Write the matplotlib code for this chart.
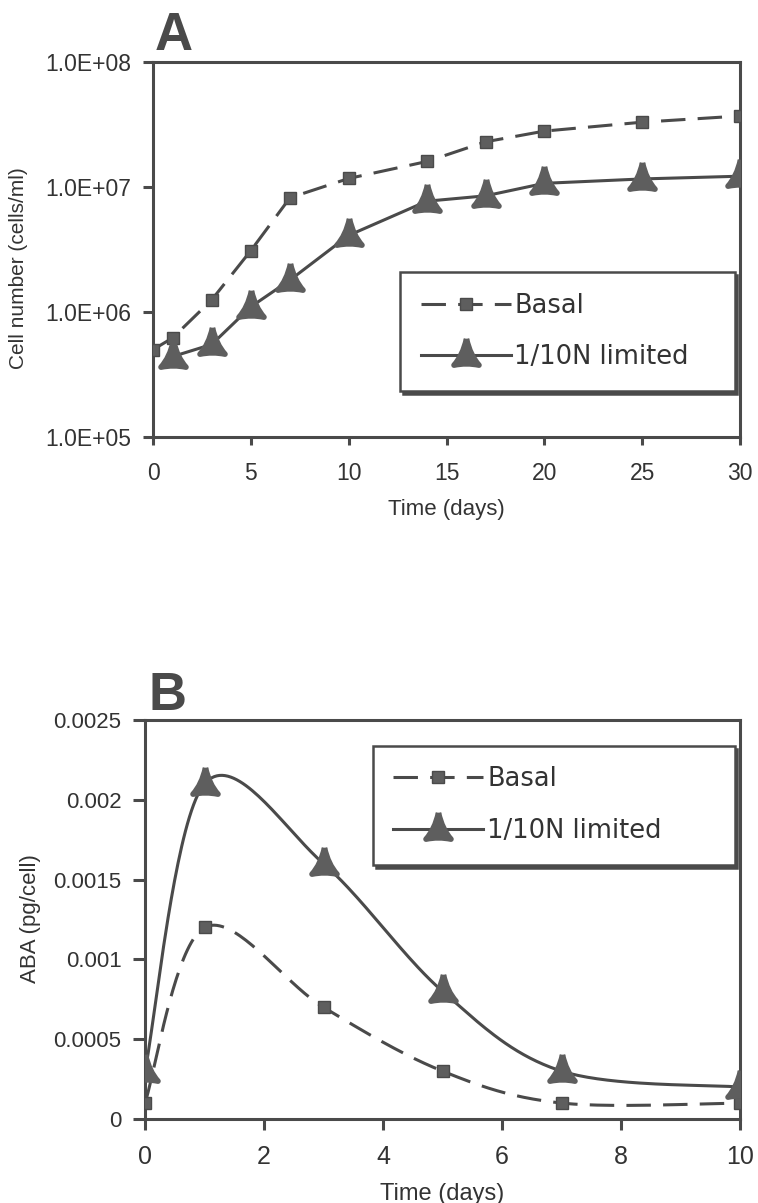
import numpy as np
import matplotlib.pyplot as plt
from matplotlib.path import Path

plt.rcParams['font.family'] = ['Liberation Sans', 'DejaVu Sans']

# growth curves (cells/ml)
days_a = [0, 1, 3, 5, 7, 10, 14, 17, 20, 25, 30]
basal_cells = [5.0e5, 6.2e5, 1.25e6, 3.1e6, 8.2e6, 1.17e7, 1.6e7, 2.3e7, 2.8e7, 3.3e7, 3.7e7]
days_a_lim = [1, 3, 5, 7, 10, 14, 17, 20, 25, 30]
limited_cells = [4.4e5, 5.5e5, 1.1e6, 1.8e6, 4.1e6, 7.7e6, 8.5e6, 1.07e7, 1.16e7, 1.22e7]

# ABA content (pg/cell)
days_b = [0, 1, 3, 5, 7, 10]
basal_aba = [0.0001, 0.0012, 0.0007, 0.0003, 0.0001, 0.0001]
limited_aba = [0.0003, 0.0021, 0.0016, 0.0008, 0.0003, 0.0002]

labels = ['Basal', '1/10N limited']
xticks_a = [0, 5, 10, 15, 20, 25, 30]
yticks_a = [1e5, 1e6, 1e7, 1e8]
yticklabels_a = ['1.0E+05', '1.0E+06', '1.0E+07', '1.0E+08']
xticks_b = [0, 2, 4, 6, 8, 10]
yticks_b = [0, 0.0005, 0.001, 0.0015, 0.002, 0.0025]
yticklabels_b = ['0', '0.0005', '0.001', '0.0015', '0.002', '0.0025']

INK = '#4a4a4a'
FILL = '#5e5e5e'
DASH = (0, (8, 4))

# rounded three-lobed triangle used as the marker for the N-limited series
tri = Path([(0, 1.0), (-0.22, 0.0), (-0.75, -0.58), (0, -0.42), (0.75, -0.58),
            (0.22, 0.0), (0, 1.0)],
           [Path.MOVETO, Path.CURVE3, Path.CURVE3, Path.CURVE3, Path.CURVE3,
            Path.CURVE3, Path.CURVE3])
TRI = dict(marker=tri, ms=24, mfc=FILL, mec=FILL, mew=4)
SQ = dict(marker='s', ms=8, mfc=FILL, mec=INK, mew=1)


def smooth(x, y, n=40):
    # bezier smoothing through the points, like a spreadsheet "smoothed line"
    P = np.column_stack([x, y]).astype(float)
    Q = np.vstack([P[:1], P, P[-1:]])
    t = np.linspace(0, 1, n)[:, None]
    out = []
    for i in range(len(P) - 1):
        p0, p3 = P[i], P[i + 1]
        c1 = p0 + (Q[i + 2] - Q[i]) / 6
        c2 = p3 - (Q[i + 3] - Q[i + 1]) / 6
        seg = (1 - t) ** 3 * p0 + 3 * (1 - t) ** 2 * t * c1 + 3 * (1 - t) * t ** 2 * c2 + t ** 3 * p3
        out.append(seg if i == 0 else seg[1:])
    out = np.vstack(out)
    return out[:, 0], out[:, 1]


def style_axes(ax):
    for s in ax.spines.values():
        s.set_color(INK)
        s.set_linewidth(2.2)
    ax.tick_params(direction='out', color=INK, width=2.2, labelcolor='#333333')


def add_legend(ax, h1, h2, anchor):
    leg = ax.legend([h1, h2], labels, loc='upper left', bbox_to_anchor=anchor,
                    mode='expand', frameon=True, fancybox=False,
                    framealpha=1, edgecolor=INK, borderpad=0.8, labelspacing=1.0,
                    handlelength=3.5, handletextpad=0.15, borderaxespad=0,
                    shadow={'ox': 2, 'oy': -2, 'color': INK, 'alpha': 1},
                    prop={'family': 'DejaVu Sans', 'size': 18.5})
    leg.get_frame().set_linewidth(1.8)
    for t in leg.get_texts():
        t.set_color('#333333')
    return leg


fig = plt.figure(figsize=(7.58, 12.03), dpi=100)

# --- panel A: cell number ---
ax1 = fig.add_axes([153 / 758, 1 - 437 / 1203, 587 / 758, 375 / 1203])
ax1.set_yscale('log')
b1, = ax1.plot(days_a, basal_cells, color=INK, lw=2.2, ls=DASH, zorder=3, **SQ)
l1, = ax1.plot(days_a_lim, limited_cells, color=INK, lw=2.2, ls='-', zorder=4, **TRI)
ax1.set_xlim(0, 30)
ax1.set_ylim(1e5, 1e8)
ax1.set_xticks(xticks_a)
ax1.set_xticklabels([str(v) for v in xticks_a], fontsize=16.5)
ax1.set_yticks(yticks_a)
ax1.set_yticklabels(yticklabels_a, fontsize=16.5)
ax1.yaxis.set_minor_locator(plt.NullLocator())
style_axes(ax1)
ax1.tick_params(axis='y', length=7, pad=9)
ax1.tick_params(axis='x', length=6, pad=12)
ax1.set_xlabel('Time (days)', fontsize=16, color='#333333', labelpad=10)
ax1.set_ylabel('Cell number (cells/ml)', fontsize=15, color='#333333')
ax1.yaxis.set_label_coords(-0.213, 0.45)
add_legend(ax1, b1, l1, (0.421, 0.112, 0.57, 0.328))
fig.text(155 / 758, 1 - 50 / 1203, 'A', fontsize=38, fontweight='bold',
         color=INK, ha='left', va='baseline')

# --- panel B: ABA content ---
ax2 = fig.add_axes([145 / 758, 1 - 1119 / 1203, 595 / 758, 399 / 1203])
xb, yb = smooth(days_b, basal_aba)
xl, yl = smooth(days_b, limited_aba)
ax2.plot(xb, yb, color=INK, lw=2.2, ls=DASH, zorder=3)
ax2.plot(xl, yl, color=INK, lw=2.2, ls='-', zorder=3)
ax2.plot(days_b, basal_aba, ls='none', zorder=4, **SQ)
ax2.plot(days_b, limited_aba, ls='none', zorder=5, **TRI)
b2 = plt.Line2D([], [], color=INK, lw=2.2, ls=DASH, **SQ)
l2 = plt.Line2D([], [], color=INK, lw=2.2, ls='-', **TRI)
ax2.set_xlim(0, 10)
ax2.set_ylim(0, 0.0025)
ax2.set_xticks(xticks_b)
ax2.set_xticklabels([str(v) for v in xticks_b], fontsize=18)
ax2.set_yticks(yticks_b)
ax2.set_yticklabels(yticklabels_b, fontsize=16)
style_axes(ax2)
ax2.tick_params(axis='y', length=9, pad=8)
ax2.tick_params(axis='x', length=8, pad=11)
ax2.set_xlabel('Time (days)', fontsize=17, color='#333333', labelpad=10)
ax2.set_ylabel('ABA (pg/cell)', fontsize=16, color='#333333')
ax2.yaxis.set_label_coords(-0.175, 0.502)
add_legend(ax2, b2, l2, (0.383, 0.639, 0.608, 0.296))
fig.text(148 / 758, 1 - 710 / 1203, 'B', fontsize=38, fontweight='bold',
         color=INK, ha='left', va='baseline')

plt.savefig('out.png', dpi=100)
